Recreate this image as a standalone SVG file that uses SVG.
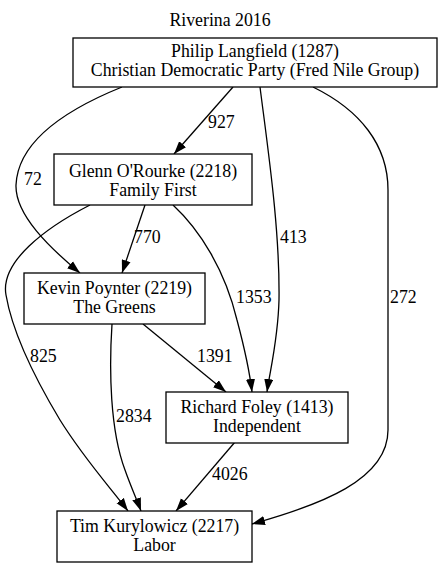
<svg xmlns="http://www.w3.org/2000/svg" width="441" height="567" viewBox="0 0 441 567">
<defs>
<marker id="arr" viewBox="0 0 10 7" refX="10" refY="3.5" markerWidth="13" markerHeight="9.5" markerUnits="userSpaceOnUse" orient="auto">
<path d="M0,0 L10,3.5 L0,7 z" fill="#000"/>
</marker>
<style>
text{font-family:"Liberation Serif","Times New Roman",serif;font-size:17.8px;fill:#000}
.n rect{fill:#fff;stroke:#000;stroke-width:1.3}
.n text{text-anchor:middle}
.e path{fill:none;stroke:#000;stroke-width:1.3;marker-end:url(#arr)}
</style>
</defs>
<rect width="441" height="567" fill="#fff"/>
<text x="220" y="26" text-anchor="middle">Riverina 2016</text>
<g id="connectors" class="e">
<path d="M233,87 L174,154"/>
<path d="M122,87 C70,108 18,140 16,185 C15,215 50,248 80,273"/>
<path d="M145,205 L122,273"/>
<path d="M173,205 C200,230 225,270 237,320 C245,350 250,375 252,392"/>
<path d="M260,87 C268,150 280,230 279,300 C278,340 270,370 267,392"/>
<path d="M313,87 C360,110 388,145 388,190 L388,430 C388,480 320,505 252,524"/>
<path d="M90,205 C45,228 0,262 6,295 C12,330 30,370 60,420 C85,460 110,487 128,511"/>
<path d="M112,324 C109,370 110,430 125,470 C131,487 137,500 141,511"/>
<path d="M143,324 L226,392"/>
<path d="M235,442 L176,511"/>
<text x="208" y="128">927</text>
<text x="24" y="185">72</text>
<text x="134" y="243">770</text>
<text x="280" y="243">413</text>
<text x="236" y="303">1353</text>
<text x="390" y="303">272</text>
<text x="30" y="362">825</text>
<text x="197" y="362">1391</text>
<text x="116" y="422">2834</text>
<text x="212" y="480">4026</text>
</g>
<g id="philip" class="n">
<rect x="73" y="38" width="364" height="49"/>
<text x="255" y="57">Philip Langfield (1287)</text>
<text x="255" y="76">Christian Democratic Party (Fred Nile Group)</text>
</g>
<g id="glenn" class="n">
<rect x="54" y="154" width="198" height="51"/>
<text x="153" y="177">Glenn O'Rourke (2218)</text>
<text x="153" y="196">Family First</text>
</g>
<g id="kevin" class="n">
<rect x="24" y="273" width="181" height="51"/>
<text x="114.5" y="294">Kevin Poynter (2219)</text>
<text x="114.5" y="313">The Greens</text>
</g>
<g id="richard" class="n">
<rect x="166" y="392" width="182" height="51"/>
<text x="257" y="413">Richard Foley (1413)</text>
<text x="257" y="432">Independent</text>
</g>
<g id="tim" class="n">
<rect x="57" y="511" width="195" height="51"/>
<text x="154.5" y="532">Tim Kurylowicz (2217)</text>
<text x="154.5" y="551">Labor</text>
</g>
</svg>
